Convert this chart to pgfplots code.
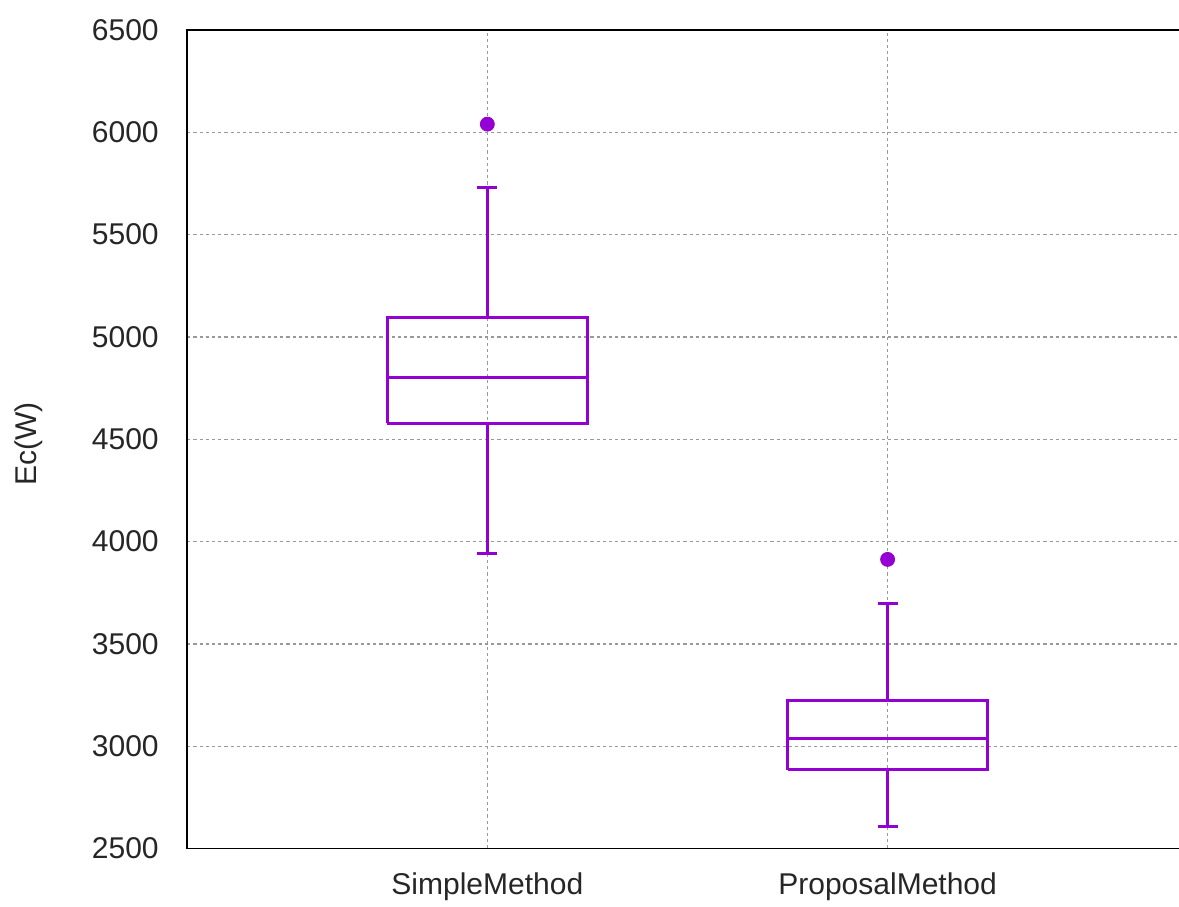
\documentclass[border=0pt]{standalone}
\usepackage{pgfplots}
\pgfplotsset{compat=1.18}
\usepackage{fontspec}
\setmainfont{Liberation Sans}
\definecolor{gpviolet}{HTML}{9400D3}
\begin{document}
\begin{tikzpicture}
\begin{axis}[
  scale only axis, width=496pt, height=409pt,
  xmin=0.25, xmax=2.73, ymin=2500, ymax=6500,
  ytick={2500,3000,3500,4000,4500,5000,5500,6000,6500},
  xtick={1,2}, xticklabels={SimpleMethod,ProposalMethod},
  axis line style={black, line width=0.75pt},
  tick style={draw=none},
  grid=major,
  major grid style={black!40, line width=0.6pt, dash pattern=on 1.6pt off 1.5pt},
  unbounded coords=jump,
  /pgf/number format/assume math mode=true,
  /pgf/number format/1000 sep={},
  tick label style={font=\fontsize{15}{18}\selectfont, black!85},
  yticklabel style={inner sep=0pt, xshift=-14pt},
  xticklabel style={inner sep=0pt, yshift=-12pt},
  ylabel={Ec(W)},
  ylabel style={font=\fontsize{15}{18}\selectfont, black!85, at={(axis description cs:-0.1452,0.494)}, anchor=south, inner sep=0pt},
]
% SimpleMethod: lower whisker 3943, Q1 4578, median 4803, Q3 5097, upper whisker 5732
\addplot[gpviolet, line width=1.5pt, line join=miter, mark=none] coordinates {
  (0.75,4578) (1.25,4578) (1.25,5097) (0.75,5097) (0.75,4578)
  (1,nan) (0.75,4803) (1.25,4803)
  (1,nan) (1,5097) (1,5732)
  (1,nan) (0.975,5732) (1.025,5732)
  (1,nan) (1,4578) (1,3943)
  (1,nan) (0.975,3943) (1.025,3943)
};
% ProposalMethod: lower whisker 2608, Q1 2886, median 3038, Q3 3224, upper whisker 3698
\addplot[gpviolet, line width=1.5pt, line join=miter, mark=none] coordinates {
  (1.75,2886) (2.25,2886) (2.25,3224) (1.75,3224) (1.75,2886)
  (2,nan) (1.75,3038) (2.25,3038)
  (2,nan) (2,3224) (2,3698)
  (2,nan) (1.975,3698) (2.025,3698)
  (2,nan) (2,2886) (2,2608)
  (2,nan) (1.975,2608) (2.025,2608)
};
% outliers
\addplot[only marks, mark=*, mark size=3.5pt, gpviolet,
  mark options={solid, fill=gpviolet}]
  coordinates {(1,6040) (2,3913)};
\coordinate (sw) at (axis cs:0.25,2500);
\coordinate (ne) at (axis cs:2.73,6500);
\end{axis}
\pgfresetboundingbox
\path ([shift={(-93.5pt,-29pt)}]sw) rectangle ([shift={(-0.4pt,15pt)}]ne);
\end{tikzpicture}
\end{document}
